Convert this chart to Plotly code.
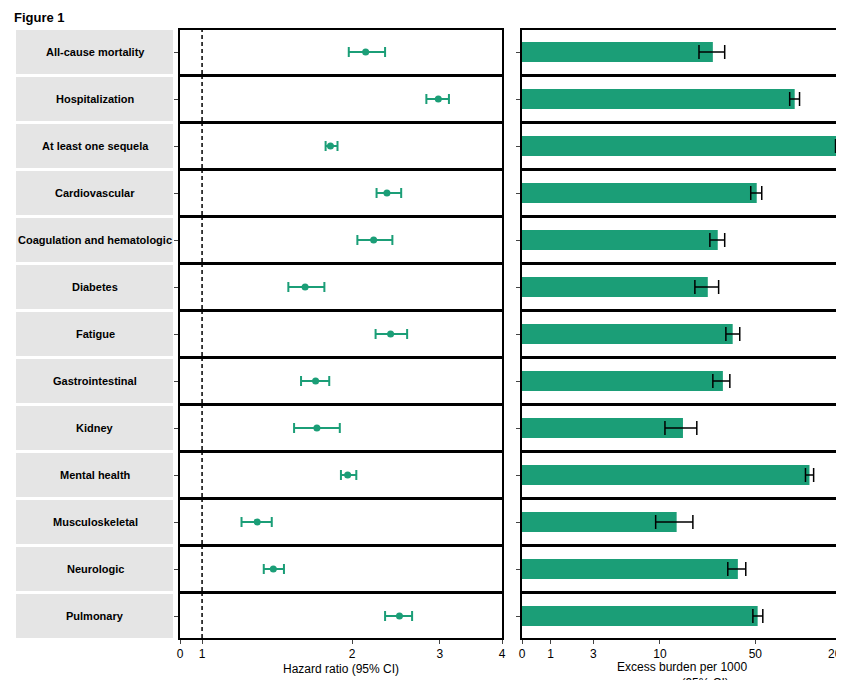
import numpy as np
import plotly.graph_objects as go

outcomes = ["All-cause mortality", "Hospitalization", "At least one sequela", "Cardiovascular",
            "Coagulation and hematologic", "Diabetes", "Fatigue", "Gastrointestinal", "Kidney",
            "Mental health", "Musculoskeletal", "Neurologic", "Pulmonary"]
hr = [2.13, 2.98, 1.81, 2.35, 2.21, 1.61, 2.39, 1.69, 1.70, 1.96, 1.29, 1.39, 2.49]
hr_lo = [1.97, 2.82, 1.77, 2.24, 2.05, 1.49, 2.23, 1.58, 1.53, 1.90, 1.20, 1.33, 2.33]
hr_hi = [2.33, 3.13, 1.87, 2.51, 2.41, 1.76, 2.58, 1.80, 1.89, 2.04, 1.38, 1.46, 2.64]
burden = [24.5, 96.8, 206, 51.2, 26.6, 22.5, 34.2, 29.0, 14.8, 124, 13.3, 37.3, 52.0]
burden_lo = [19.4, 89, 192, 46.3, 23.3, 18.1, 30.5, 24.5, 10.9, 116, 9.3, 31.5, 48.0]
burden_hi = [29.9, 105, 213, 55.7, 29.9, 27.0, 38.5, 32.6, 18.7, 133, 17.5, 42.6, 56.7]
hr_ticks = [0, 1, 2, 3, 4]
burden_ticks = [0, 1, 3, 10, 50, 200]

GREEN = "#1b9e77"
W, H = 844, 680
def tb(v): return np.arcsinh(np.array(v, dtype=float) / 2)
def th(v): return np.log10(np.array(v, dtype=float))

fig = go.Figure()
hr_range = [np.log10(0.903), np.log10(4.0)]
b_range = [0, np.arcsinh(214 / 2)]
hr_tickpos = [hr_range[0]] + list(th(hr_ticks[1:]))
shapes, annotations = [], []
n = len(outcomes)
for i, name in enumerate(outcomes):
    top = 22 + 47 * i
    y0, y1 = 1 - (top + 44) / H, 1 - top / H
    last = i == n - 1
    ka, kb = 2 * i + 1, 2 * i + 2
    sa = "" if ka == 1 else str(ka)
    sb = str(kb)
    x = th([hr[i]])
    fig.add_trace(go.Scatter(x=x, y=[0], mode="markers", marker=dict(color=GREEN, size=7),
                             error_x=dict(type="data", array=th([hr_hi[i]]) - x, arrayminus=x - th([hr_lo[i]]),
                                          color=GREEN, thickness=2, width=5),
                             xaxis="x" + sa, yaxis="y" + sa, showlegend=False))
    bx = tb([burden[i]])
    fig.add_trace(go.Bar(x=bx, y=[0], orientation="h", width=1.0, marker=dict(color=GREEN, line_width=0),
                         error_x=dict(type="data", array=tb([burden_hi[i]]) - bx, arrayminus=bx - tb([burden_lo[i]]),
                                      color="black", thickness=1.5, width=7),
                         xaxis="x" + sb, yaxis="y" + sb, showlegend=False))
    common = dict(showgrid=False, zeroline=False, showline=True, linecolor="black", linewidth=2,
                  mirror=True, automargin=False)
    fig.layout["xaxis" + sa] = dict(domain=[172 / W, 494 / W], anchor="y" + sa, range=hr_range,
                                   tickvals=hr_tickpos, ticktext=[str(t) for t in hr_ticks],
                                   showticklabels=last, ticks="outside" if last else "", ticklen=4,
                                   tickfont=dict(size=12, color="black"), **common)
    fig.layout["yaxis" + sa] = dict(domain=[y0, y1], anchor="x" + sa, range=[-1, 1], tickvals=[0],
                                   ticktext=[""], ticks="outside", ticklen=4, **common)
    fig.layout["xaxis" + sb] = dict(domain=[514 / W, 834 / W], anchor="y" + sb, range=b_range,
                                   tickvals=list(tb(burden_ticks)), ticktext=[str(t) for t in burden_ticks],
                                   showticklabels=last, ticks="outside" if last else "", ticklen=4,
                                   tickfont=dict(size=12, color="black"), **common)
    fig.layout["yaxis" + sb] = dict(domain=[y0, y1], anchor="x" + sb, range=[-1.1, 1.1], tickvals=[0],
                                   ticktext=[""], ticks="outside", ticklen=4, **common)
    shapes.append(dict(type="line", xref="x" + sa, yref="y" + sa, x0=0, x1=0, y0=-1, y1=1,
                       line=dict(color="black", width=1.5, dash="4px,3px")))
    shapes.append(dict(type="rect", xref="paper", yref="paper", x0=8 / W, x1=165 / W, y0=y0, y1=y1,
                       fillcolor="#e5e5e5", line_width=0, layer="below"))
    annotations.append(dict(text="<b>" + name + "</b>", xref="paper", yref="paper", x=87 / W, y=(y0 + y1) / 2,
                            xanchor="center", yanchor="middle",
                            showarrow=False, font=dict(size=11, color="black")))

annotations += [
    dict(text="<b>Figure 1</b>", xref="paper", yref="paper", x=4 / W, y=1 - 10 / H, xanchor="left",
         yanchor="middle", showarrow=False, font=dict(size=13, color="black")),
    dict(text="Hazard ratio (95% CI)", xref="paper", yref="paper", x=333 / W, y=1 - 661 / H,
         xanchor="center", yanchor="middle", showarrow=False, font=dict(size=12, color="black")),
    dict(text="Excess burden per 1000<br>persons (95% CI)", xref="paper", yref="paper", x=674 / W, y=1 - 667 / H,
         xanchor="center", yanchor="middle", showarrow=False, font=dict(size=12, color="black")),
]
fig.update_layout(width=W, height=H, margin=dict(l=0, r=0, t=0, b=0), plot_bgcolor="white",
                  paper_bgcolor="white", shapes=shapes, annotations=annotations,
                  font=dict(family="Liberation Sans, Arial"))
fig.write_html("out.html")
